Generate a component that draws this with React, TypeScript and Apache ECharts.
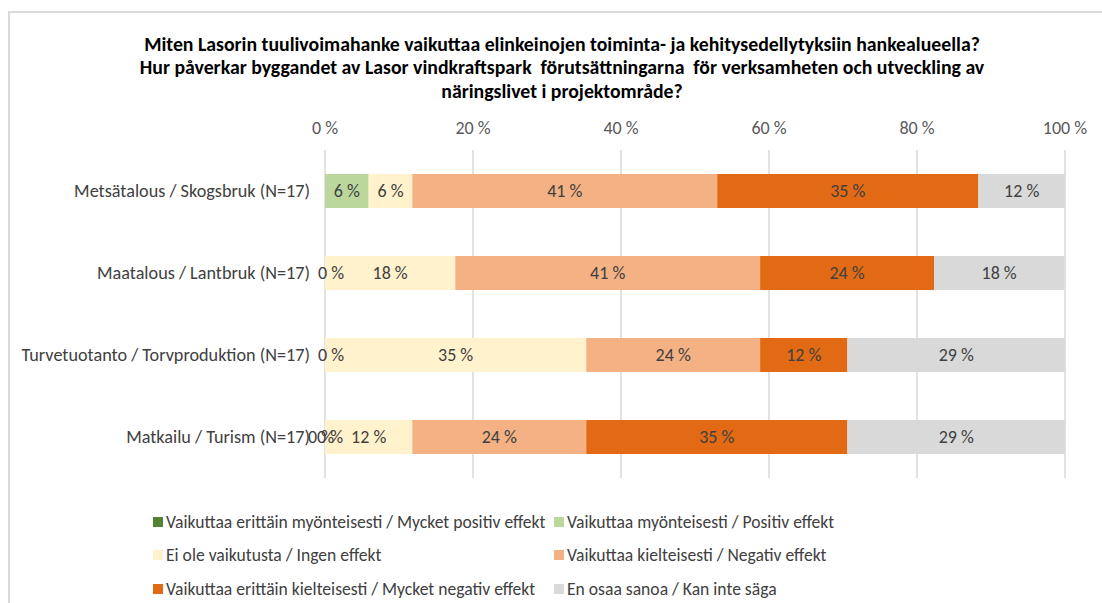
import React, { useEffect, useRef } from "react";
import * as echarts from "echarts";

// Survey question (Finnish / Swedish), drawn as the chart heading
const titleLines = [
  "Miten Lasorin tuulivoimahanke vaikuttaa elinkeinojen toiminta- ja kehitysedellytyksiin hankealueella?",
  "Hur påverkar byggandet av Lasor vindkraftspark  förutsättningarna  för verksamheten och utveckling av",
  "näringslivet i projektområde?",
];

const categories = [
  "Metsätalous / Skogsbruk (N=17)",
  "Maatalous / Lantbruk (N=17)",
  "Turvetuotanto / Torvproduktion (N=17)",
  "Matkailu / Turism (N=17)",
];

const seriesNames = [
  "Vaikuttaa erittäin myönteisesti / Mycket positiv effekt",
  "Vaikuttaa myönteisesti / Positiv effekt",
  "Ei ole vaikutusta / Ingen effekt",
  "Vaikuttaa kielteisesti / Negativ effekt",
  "Vaikuttaa erittäin kielteisesti / Mycket negativ effekt",
  "En osaa sanoa / Kan inte säga",
];

// Share of answers (%) per category, one array per answer option
const veryPositive = [0, 0, 0, 0];
const positive = [5.9, 0, 0, 0];
const noEffect = [5.9, 17.6, 35.3, 11.8];
const negative = [41.2, 41.2, 23.5, 23.5];
const veryNegative = [35.3, 23.5, 11.8, 35.3];
const cannotSay = [11.8, 17.6, 29.4, 29.4];

const seriesValues = [veryPositive, positive, noEffect, negative, veryNegative, cannotSay];

const seriesColors = ["#548235", "#bcd79c", "#fff2cc", "#f4b183", "#e26a15", "#d9d9d9"];

const xTicks = [0, 20, 40, 60, 80, 100];

// Which zero-valued labels are drawn, per series: [seriesIndex, categoryIndex, xOffset]
const zeroLabels: [number, number, number][] = [
  [1, 1, 6],
  [1, 2, 6],
  [0, 3, -4],
  [1, 3, 5],
];

const FONT = 'Carlito, Calibri, "Liberation Sans Narrow", "Liberation Sans", sans-serif';
const TEXT = "#404040";

export default function App() {
  const ref = useRef<HTMLDivElement>(null);

  useEffect(() => {
    document.body.style.margin = "0";
    const chart = echarts.init(ref.current!, null, { renderer: "svg" });

    const series = seriesNames.map((name, si) => ({
      name,
      type: "bar",
      stack: "total",
      barWidth: 34,
      itemStyle: { color: seriesColors[si] },
      label: {
        show: true,
        position: "inside",
        color: TEXT,
        fontSize: 18,
        fontFamily: FONT,
        formatter: (p: any) => `${Math.round(p.value)} %`,
      },
      emphasis: { disabled: true },
      data: seriesValues[si].map((v, ci) => {
        if (v !== 0) return v;
        const z = zeroLabels.find((e) => e[0] === si && e[1] === ci);
        return {
          value: v,
          label: z ? { show: true, offset: [z[2], 0] } : { show: false },
        };
      }),
    }));

    const legendPos = [
      [148, 508],
      [549, 508],
      [148, 541],
      [549, 541],
      [148, 575],
      [549, 575],
    ];

    chart.setOption({
      animation: false,
      textStyle: { fontFamily: FONT },
      graphic: [
        {
          type: "rect",
          shape: { x: 9, y: 12, width: 1200, height: 700 },
          style: { fill: "none", stroke: "#d9d9d9", lineWidth: 2 },
          silent: true,
        },
        {
          type: "text",
          x: 562,
          y: 32,
          style: {
            text: titleLines.join("\n"),
            textAlign: "center",
            fontFamily: FONT,
            fontWeight: "bold",
            fontSize: 19.8,
            lineHeight: 23.5,
            fill: "#000000",
          },
        },
      ],
      legend: seriesNames.map((name, i) => ({
        data: [name],
        left: legendPos[i][0],
        top: legendPos[i][1],
        icon: "rect",
        itemWidth: 10,
        itemHeight: 10,
        itemGap: 4,
        selectedMode: false,
        textStyle: { color: TEXT, fontSize: 17.6, fontFamily: FONT, padding: [0, 0, 0, -2] },
      })),
      grid: { left: 325, right: 37, top: 150, bottom: 125, containLabel: false },
      xAxis: {
        type: "value",
        position: "top",
        min: 0,
        max: 100,
        interval: 20,
        axisLine: { show: false },
        axisTick: { show: false },
        axisLabel: {
          color: "#595959",
          fontSize: 18,
          fontFamily: FONT,
          margin: 13,
          formatter: (v: number) => (xTicks.includes(v) ? `${v} %` : ""),
        },
        splitLine: { show: true, lineStyle: { color: "#d9d9d9", width: 1.5 } },
      },
      yAxis: {
        type: "category",
        inverse: true,
        data: categories,
        axisLine: { show: false },
        axisTick: { show: false },
        axisLabel: { color: TEXT, fontSize: 18.2, fontFamily: FONT, margin: 15 },
      },
      series,
    });

    return () => chart.dispose();
  }, []);

  return <div ref={ref} style={{ width: 1102, height: 603 }} />;
}
